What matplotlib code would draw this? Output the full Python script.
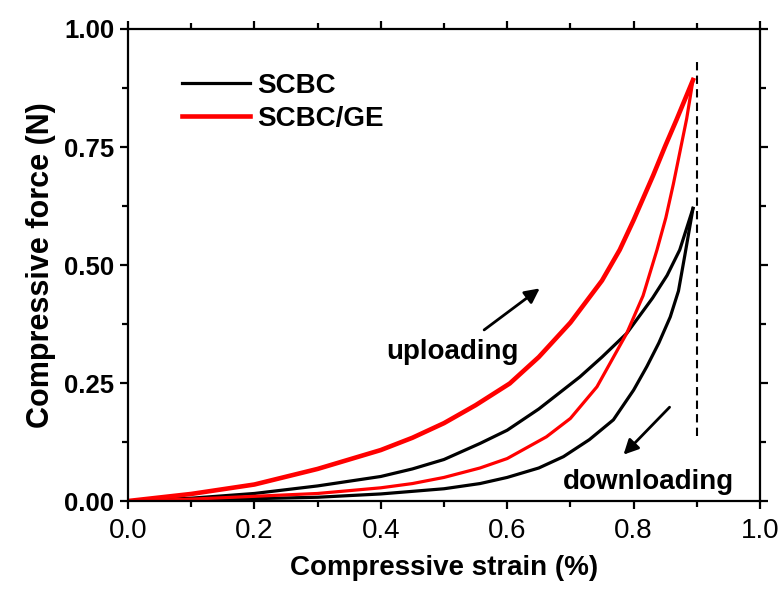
import matplotlib
matplotlib.use('Agg')
import matplotlib.pyplot as plt
from matplotlib.ticker import MultipleLocator, FormatStrFormatter

plt.rcParams['font.family'] = ['Liberation Sans', 'DejaVu Sans']

# SCBC loading / unloading (strain, force)
scbc_up_x = [0.0, 0.1, 0.2, 0.3, 0.4, 0.45, 0.5, 0.557, 0.6, 0.65, 0.715, 0.75, 0.789, 0.83, 0.853, 0.873, 0.894]
scbc_up_y = [0.0, 0.006, 0.016, 0.032, 0.052, 0.068, 0.088, 0.122, 0.150, 0.195, 0.263, 0.305, 0.355, 0.43, 0.478, 0.532, 0.62]
scbc_down_x = [0.0, 0.1, 0.2, 0.3, 0.4, 0.5, 0.557, 0.6, 0.65, 0.689, 0.73, 0.768, 0.8, 0.821, 0.84, 0.858, 0.871, 0.881, 0.894]
scbc_down_y = [0.0, 0.002, 0.005, 0.008, 0.015, 0.026, 0.037, 0.050, 0.070, 0.094, 0.13, 0.172, 0.235, 0.285, 0.335, 0.39, 0.445, 0.52, 0.62]

# SCBC/GE loading / unloading
ge_up_x = [0.0, 0.1, 0.2, 0.3, 0.4, 0.45, 0.5, 0.55, 0.604, 0.65, 0.7, 0.75, 0.778, 0.8, 0.831, 0.85, 0.868, 0.894]
ge_up_y = [0.0, 0.015, 0.035, 0.068, 0.108, 0.134, 0.165, 0.203, 0.249, 0.305, 0.378, 0.467, 0.532, 0.595, 0.69, 0.752, 0.808, 0.892]
ge_down_x = [0.0, 0.1, 0.2, 0.3, 0.4, 0.45, 0.5, 0.557, 0.6, 0.662, 0.7, 0.742, 0.789, 0.815, 0.837, 0.851, 0.863, 0.884, 0.894]
ge_down_y = [0.0, 0.004, 0.010, 0.016, 0.028, 0.037, 0.050, 0.070, 0.090, 0.136, 0.175, 0.242, 0.355, 0.435, 0.532, 0.60, 0.672, 0.81, 0.892]

fig = plt.figure(figsize=(7.81, 5.93), dpi=100)
ax = fig.add_axes([0.1639, 0.1551, 0.8092, 0.7960])

ax.plot(scbc_up_x, scbc_up_y, color='black', lw=2.3, label='SCBC')
ax.plot(scbc_down_x, scbc_down_y, color='black', lw=2.3)
ax.plot(ge_up_x, ge_up_y, color='#ff0000', lw=3.3, label='SCBC/GE')
ax.plot(ge_down_x, ge_down_y, color='#ff0000', lw=2.3)

dash, = ax.plot([0.9, 0.9], [0.137, 0.94], color='black', lw=1.5)
dash.set_dashes((4, 2.5))

ax.annotate('', xy=(0.655, 0.454), xytext=(0.56, 0.359),
            arrowprops=dict(arrowstyle='-|>', color='black', lw=2, mutation_scale=22))
ax.annotate('', xy=(0.781, 0.094), xytext=(0.86, 0.203),
            arrowprops=dict(arrowstyle='-|>', color='black', lw=2, mutation_scale=22))
ax.text(0.514, 0.316, 'uploading', fontsize=20, fontweight='bold', ha='center', va='center')
ax.text(0.824, 0.04, 'downloading', fontsize=20, fontweight='bold', ha='center', va='center')

ax.set_xlim(0, 1.0)
ax.set_ylim(0, 1.0)
ax.xaxis.set_major_locator(MultipleLocator(0.2))
ax.xaxis.set_minor_locator(MultipleLocator(0.1))
ax.yaxis.set_major_locator(MultipleLocator(0.25))
ax.yaxis.set_minor_locator(MultipleLocator(0.125))
ax.xaxis.set_major_formatter(FormatStrFormatter('%.1f'))
ax.yaxis.set_major_formatter(FormatStrFormatter('%.2f'))

for s in ax.spines.values():
    s.set_linewidth(1.6)
ax.tick_params(which='both', direction='out', width=1.6, top=True, right=True)
ax.tick_params(which='major', length=6)
ax.tick_params(which='minor', length=4)
ax.tick_params(axis='x', labelsize=20, pad=6)
ax.tick_params(axis='y', labelsize=18.5, pad=4)
for t in ax.get_yticklabels():
    t.set_fontweight('bold')

ax.set_xlabel('Compressive strain (%)', fontsize=20, fontweight='bold', labelpad=8)
ax.set_ylabel('Compressive force (N)', fontsize=22, fontweight='bold', labelpad=6)

ax.legend(loc='center left', bbox_to_anchor=(0.085, 0.844), frameon=False,
          prop={'weight': 'bold', 'size': 20}, handlelength=2.45, handletextpad=0.25,
          labelspacing=0.25, borderpad=0, borderaxespad=0)

fig.savefig('out.png', dpi=100)
